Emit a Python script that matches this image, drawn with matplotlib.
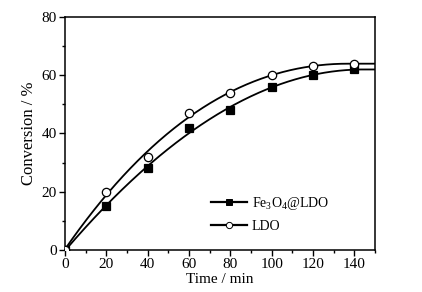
import numpy as np
import matplotlib
matplotlib.use("Agg")
import matplotlib.pyplot as plt
from matplotlib.ticker import MultipleLocator

plt.rcParams['font.family'] = ['Liberation Serif', 'DejaVu Serif']
plt.rcParams['mathtext.fontset'] = 'custom'
plt.rcParams['mathtext.rm'] = 'Liberation Serif'
plt.rcParams['mathtext.it'] = 'Liberation Serif:italic'

time = [0, 20, 40, 60, 80, 100, 120, 140]
fe3o4_ldo = [0, 15, 28, 42, 48, 56, 60, 62]
ldo = [0, 20, 32, 47, 54, 60, 63, 64]

fig = plt.figure(figsize=(4.22, 2.92), dpi=100)
ax = fig.add_axes([0.154, 0.144, 0.735, 0.798])

xs = np.linspace(0, 150, 300)
for ys, mk, fc, lab in [(fe3o4_ldo, 's', 'black', 'Fe$_3$O$_4$@LDO'),
                         (ldo, 'o', 'white', 'LDO')]:
    c = np.polyfit(time, ys, 3)
    fit = np.maximum.accumulate(np.polyval(c, xs))
    ax.plot(xs, fit, color='black', lw=1.3, zorder=2)
    ax.plot(time, ys, linestyle='none', marker=mk, ms=5.2 if mk == 's' else 6,
            mfc=fc, mec='black', mew=0.9, zorder=3)
    ax.plot([], [], color='black', lw=1.6, marker=mk, ms=4.5,
            mfc=fc, mec='black', mew=0.7, label=lab)

ax.set_xlim(0, 150)
ax.set_ylim(0, 80)
ax.xaxis.set_major_locator(MultipleLocator(20))
ax.xaxis.set_minor_locator(MultipleLocator(10))
ax.yaxis.set_major_locator(MultipleLocator(20))
ax.yaxis.set_minor_locator(MultipleLocator(10))
ax.tick_params(which='major', direction='out', length=4, width=1, labelsize=11, pad=2)
ax.tick_params(which='minor', direction='out', length=2.5, width=1)
for s in ax.spines.values():
    s.set_linewidth(1.1)
ax.set_xlabel('Time / min', fontsize=11, labelpad=1)
ax.set_ylabel('Conversion / %', fontsize=12, labelpad=3)

ax.legend(loc='lower left', bbox_to_anchor=(0.43, 0.02), frameon=False,
          fontsize=10, handlelength=2.6, handletextpad=0.35, labelspacing=0.55)

fig.savefig('out.png', dpi=100)
